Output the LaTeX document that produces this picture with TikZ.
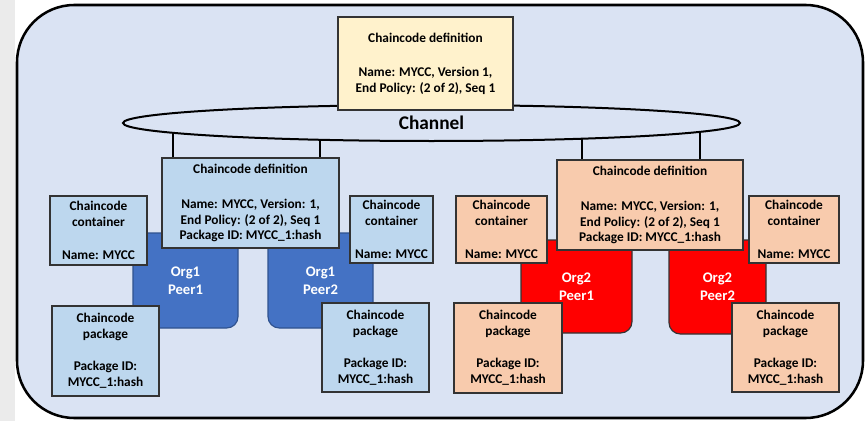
\documentclass[tikz,border=0pt]{standalone}
\usepackage{fontspec}
\setmainfont{Carlito}
\usepackage{tikz}
\usetikzlibrary{shapes.geometric}
\definecolor{chanbg}{HTML}{DAE3F3}
\definecolor{defyel}{HTML}{FFF2CC}
\definecolor{orgonefill}{HTML}{BDD7EE}
\definecolor{orgtwofill}{HTML}{F8CBAD}
\definecolor{peerblue}{HTML}{4472C4}
\definecolor{peerred}{HTML}{FF0000}
\definecolor{peeredge}{HTML}{2F528F}
\definecolor{stripgray}{HTML}{EBEBEB}

\begin{document}
\begin{tikzpicture}[x=.75pt,y=-.75pt,font=\bfseries\fontsize{10}{11.8}\selectfont,
 sz/.style 2 args={minimum width={#1*.75pt},minimum height={#2*.75pt}},
 box/.style={draw=black!80,line width=.9pt,inner sep=0pt,align=center},
 blu/.style={box,fill=orgonefill},
 pch/.style={box,fill=orgtwofill},
 peer/.style={draw=peeredge,line width=.9pt,rounded corners=8.5pt,inner sep=0pt,align=center,
  text=white,font=\bfseries\fontsize{11}{13.5}\selectfont},
 conn/.style={line width=1.9pt}]
\useasboundingbox (0,0) rectangle (865,421);
\fill[white] (0,0) rectangle (865,421);
\fill[stripgray] (0,0) rectangle (15,421);
\draw[line width=1.9pt,fill=chanbg,rounded corners=43pt] (17,5) rectangle (863,418);
% peers
\node[peer,fill=peerblue,sz={105}{95}] (p11) at (185.5,280.5) {Org1\\Peer1};
\node[peer,fill=peerblue,sz={105}{95}] (p12) at (320.5,280.5) {Org1\\Peer2};
\node[peer,fill=peerred,draw=black!80,sz={111}{93}] (p21) at (576.5,286.5) {Org2\\Peer1};
\node[peer,fill=peerred,draw=black!80,sz={97}{94}] (p22) at (717.5,287) {Org2\\Peer2};
% org1 boxes
\node[blu,sz={177}{90}] (defA) at (250.5,203) {Chaincode definition\\[14.5pt]Name: MYCC, Version: 1,\\End Policy: (2 of 2), Seq 1\\Package ID: MYCC\_1:hash};
\node[blu,sz={97}{69}] (ctA1) at (98.5,230.5) {Chaincode\\container\\[13pt]Name: MYCC};
\node[blu,sz={83}{67}] (ctA2) at (391.5,229.5) {Chaincode\\container\\[13pt]Name: MYCC};
\node[blu,sz={107}{90}] (pkA1) at (105.5,351) {Chaincode\\package\\[12.5pt]Package ID:\\MYCC\_1:hash};
\node[blu,sz={107}{89}] (pkA2) at (375.5,347.5) {Chaincode\\package\\[12.5pt]Package ID:\\MYCC\_1:hash};
% org2 boxes
\node[pch,sz={186}{90}] (defB) at (650,205) {Chaincode definition\\[14.5pt]Name: MYCC, Version: 1,\\End Policy: (2 of 2), Seq 1\\Package ID: MYCC\_1:hash};
\node[pch,sz={91}{67}] (ctB1) at (501.5,229.5) {Chaincode\\container\\[13pt]Name: MYCC};
\node[pch,sz={90}{67}] (ctB2) at (794,229.5) {Chaincode\\container\\[13pt]Name: MYCC};
\node[pch,sz={108}{90}] (pkB1) at (508,348) {Chaincode\\package\\[12.5pt]Package ID:\\MYCC\_1:hash};
\node[pch,sz={107}{89}] (pkB2) at (785.5,347.5) {Chaincode\\package\\[12.5pt]Package ID:\\MYCC\_1:hash};
% channel links
\coordinate (lA1) at (173,123);
\coordinate (lA2) at (320,123);
\coordinate (lB1) at (582,123);
\coordinate (lB2) at (700,123);
\foreach \c/\d in {lA1/defA,lA2/defA,lB1/defB,lB2/defB}
 {\draw[conn] (\c) -- (\c |- \d.north);}
\node[ellipse,draw,line width=1.5pt,fill=chanbg,sz={617}{36},inner sep=0pt,
 font=\bfseries\fontsize{14.5}{16}\selectfont] (chan) at (431.5,123) {\raisebox{-2pt}{Channel}};
\node[box,fill=defyel,sz={175}{93}] (defC) at (425.5,63.5) {Chaincode definition\\[14pt]Name: MYCC, Version 1,\\End Policy: (2 of 2), Seq 1};
\end{tikzpicture}
\end{document}
